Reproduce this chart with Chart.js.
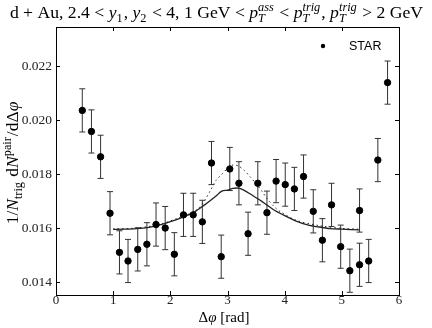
<!DOCTYPE html>
<html>
<head>
<meta charset="utf-8">
<script src="https://cdn.jsdelivr.net/npm/chart.js@4.4.0/dist/chart.umd.min.js"></script>
<style>
  html, body { margin: 0; padding: 0; background: #fff; }
</style>
</head>
<body>
<canvas id="chart" width="432" height="328"></canvas>
<script>
// STAR points
const phi = [0.46, 0.62, 0.78, 0.945, 1.11, 1.26, 1.43, 1.59, 1.75, 1.91, 2.07, 2.23, 2.40, 2.56, 2.72, 2.89, 3.04, 3.20,
  3.36, 3.53, 3.69, 3.85, 4.01, 4.17, 4.33, 4.50, 4.66, 4.82, 4.98, 5.14, 5.31, 5.31, 5.47, 5.63, 5.80]
const yieldVals = [0.02037, 0.01959, 0.01865, 0.01656, 0.01511, 0.01479, 0.01522, 0.01541, 0.01614, 0.01601, 0.01504,
  0.01650, 0.01650, 0.01624, 0.01842, 0.01495, 0.01820, 0.01767, 0.01580, 0.01767, 0.01658, 0.01775, 0.01762, 0.01746,
  0.01792, 0.01663, 0.01556, 0.01687, 0.01532, 0.01443, 0.01465, 0.01666, 0.01479, 0.01853, 0.02140]
const yieldErr = [0.0008, 0.0008, 0.0008, 0.0008, 0.0008, 0.0008, 0.0008, 0.0008, 0.0008, 0.0008, 0.0008, 0.0008,
  0.0008, 0.0008, 0.0008, 0.0008, 0.0008, 0.0008, 0.0008, 0.0008, 0.0008, 0.0008, 0.0008, 0.0008, 0.0008, 0.0008,
  0.0008, 0.0008, 0.0008, 0.0008, 0.0008, 0.0008, 0.0008, 0.0008, 0.0008]

// theory curves
const solidX = [1.0, 1.2, 1.4, 1.6, 1.8, 2.0, 2.2, 2.4, 2.6, 2.8, 2.9, 3.0, 3.1, 3.2, 3.3, 3.4, 3.6, 3.8, 4.0, 4.2, 4.4, 4.6, 4.8, 5.0, 5.3]
const solidY = [0.01596, 0.01597, 0.01599, 0.01603, 0.01612, 0.01625, 0.01640, 0.01658, 0.01687, 0.01720, 0.01738,
  0.01742, 0.01748, 0.01749, 0.01740, 0.01727, 0.01700, 0.01670, 0.01647, 0.01627, 0.01613, 0.01605, 0.01599, 0.01597, 0.01594]
const dottedX = [1.0, 1.4, 1.8, 2.2, 2.4, 2.5, 2.6, 2.7, 2.8, 2.9, 3.0, 3.1, 3.2, 3.3, 3.4, 3.5, 3.6, 3.7, 3.8, 3.9, 4.2, 4.6, 5.0, 5.3]
const dottedY = [0.01598, 0.01601, 0.01614, 0.01643, 0.01660, 0.01675, 0.01703, 0.01740, 0.01778, 0.01800, 0.01822,
  0.01835, 0.01830, 0.01813, 0.01790, 0.01765, 0.01738, 0.01708, 0.01684, 0.01665, 0.01630, 0.01610, 0.01600, 0.01597]

const xTicks = [0, 1, 2, 3, 4, 5, 6]
const yTicks = [0.014, 0.016, 0.018, 0.020, 0.022]

const SERIF = "'Liberation Serif', 'DejaVu Serif', serif"

// width of a run of text pieces (italics, sub/superscripts)
function richWidth(ctx, parts, size) {
  let w = 0
  parts.forEach(p => {
    if (p.sub !== undefined || p.sup !== undefined) {
      ctx.font = `${p.it ? "italic " : ""}${size * 0.7}px ${SERIF}`
      const a = p.sub ? ctx.measureText(p.sub).width : 0
      const b = p.sup ? ctx.measureText(p.sup).width : 0
      w += Math.max(a, b) + 1
    } else {
      ctx.font = `${p.it ? "italic " : ""}${size}px ${SERIF}`
      w += ctx.measureText(p.t).width
    }
  })
  return w
}

function drawRich(ctx, parts, x, y, size) {
  ctx.textBaseline = "alphabetic"
  ctx.textAlign = "left"
  parts.forEach(p => {
    if (p.sub !== undefined || p.sup !== undefined) {
      ctx.font = `${p.it ? "italic " : ""}${size * 0.7}px ${SERIF}`
      let w = 0
      if (p.sub) { ctx.fillText(p.sub, x, y + size * 0.2); w = ctx.measureText(p.sub).width }
      if (p.sup) { ctx.fillText(p.sup, x, y - size * 0.42); w = Math.max(w, ctx.measureText(p.sup).width) }
      x += w + 1
    } else {
      ctx.font = `${p.it ? "italic " : ""}${size}px ${SERIF}`
      ctx.fillText(p.t, x, y)
      x += ctx.measureText(p.t).width
    }
  })
}

const titleParts = [
  { t: "d + Au, 2.4 < " }, { t: "y", it: true }, { sub: "1" }, { t: ", " }, { t: "y", it: true }, { sub: "2" },
  { t: " < 4, 1 GeV < " }, { t: "p", it: true }, { sub: "T", sup: "ass", it: true },
  { t: " < " }, { t: "p", it: true }, { sub: "T", sup: "trig", it: true },
  { t: ", " }, { t: "p", it: true }, { sub: "T", sup: "trig", it: true }, { t: " > 2 GeV" }
]
const yLabelParts = [
  { t: "1/" }, { t: "N", it: true }, { sub: "trig" }, { t: " d" }, { t: "N", it: true }, { sup: "pair" },
  { t: "/d\u0394" }, { t: "\u03C6", it: true }
]
const xLabelParts = [{ t: "\u0394" }, { t: "\u03C6", it: true }, { t: " [rad]" }]

const decorPlugin = {
  id: "decor",
  beforeDatasetsDraw(chart) {
    const ctx = chart.ctx
    const xs = chart.scales.x, ys = chart.scales.y
    ctx.save()
    ctx.strokeStyle = "#333"
    ctx.lineWidth = 1
    phi.forEach((v, i) => {
      const px = xs.getPixelForValue(v)
      const top = ys.getPixelForValue(yieldVals[i] + yieldErr[i])
      const bot = ys.getPixelForValue(yieldVals[i] - yieldErr[i])
      ctx.beginPath()
      ctx.moveTo(px, top); ctx.lineTo(px, bot)
      ctx.moveTo(px - 3, top); ctx.lineTo(px + 3, top)
      ctx.moveTo(px - 3, bot); ctx.lineTo(px + 3, bot)
      ctx.stroke()
    })
    ctx.restore()
  },
  afterDraw(chart) {
    const ctx = chart.ctx
    const a = chart.chartArea
    const xs = chart.scales.x, ys = chart.scales.y
    ctx.save()
    ctx.strokeStyle = "#000"
    ctx.lineWidth = 1
    ctx.strokeRect(Math.round(a.left) + 0.5, Math.round(a.top) + 0.5, Math.round(a.right - a.left), Math.round(a.bottom - a.top))
    ctx.beginPath()
    xTicks.forEach(v => {
      const px = Math.round(xs.getPixelForValue(v)) + 0.5
      ctx.moveTo(px, a.bottom); ctx.lineTo(px, a.bottom - 4)
      ctx.moveTo(px, a.top); ctx.lineTo(px, a.top + 4)
    })
    yTicks.forEach(v => {
      const py = Math.round(ys.getPixelForValue(v)) + 0.5
      ctx.moveTo(a.left, py); ctx.lineTo(a.left + 4, py)
      ctx.moveTo(a.right, py); ctx.lineTo(a.right - 4, py)
    })
    ctx.stroke()

    // legend
    ctx.fillStyle = "#000"
    ctx.beginPath()
    ctx.arc(323, 46, 2.2, 0, Math.PI * 2)
    ctx.fill()
    ctx.font = "12.5px 'Liberation Sans', Arial, sans-serif"
    ctx.textBaseline = "middle"
    ctx.textAlign = "left"
    ctx.fillText("STAR", 349, 46.5)

    // title, fitted to the width it has in the figure
    let ts = 16
    ts = ts * 414 / richWidth(ctx, titleParts, ts)
    const tw = richWidth(ctx, titleParts, ts)
    drawRich(ctx, titleParts, 216.5 - tw / 2, 18, ts)

    // x label
    const xw = richWidth(ctx, xLabelParts, 15)
    drawRich(ctx, xLabelParts, 224 - xw / 2, 322, 15)

    // y label
    const ysz = 17.5
    const yw = richWidth(ctx, yLabelParts, ysz)
    ctx.translate(18, 163)
    ctx.rotate(-Math.PI / 2)
    drawRich(ctx, yLabelParts, -yw / 2, 0, ysz)
    ctx.restore()
  }
}

new Chart(document.getElementById("chart"), {
  type: "scatter",
  data: {
    datasets: [
      {
        label: "STAR",
        data: phi.map((v, i) => ({ x: v, y: yieldVals[i] })),
        backgroundColor: "#000",
        borderColor: "#000",
        pointRadius: 3.2,
        pointHoverRadius: 3.2
      },
      {
        label: "solid",
        type: "line",
        data: solidX.map((v, i) => ({ x: v, y: solidY[i] })),
        borderColor: "#222",
        borderWidth: 1.3,
        pointRadius: 0,
        tension: 0.3,
        fill: false
      },
      {
        label: "dotted",
        type: "line",
        data: dottedX.map((v, i) => ({ x: v, y: dottedY[i] })),
        borderColor: "#222",
        borderWidth: 1,
        borderDash: [1.5, 3],
        pointRadius: 0,
        tension: 0.3,
        fill: false
      }
    ]
  },
  options: {
    responsive: false,
    animation: false,
    layout: { padding: { top: 27, right: 33, left: 0, bottom: 0 } },
    plugins: { legend: { display: false }, tooltip: { enabled: false } },
    scales: {
      x: {
        type: "linear",
        min: 0,
        max: 6,
        grid: { display: false, drawTicks: false },
        border: { display: false },
        afterFit: s => { s.height = 33 },
        afterBuildTicks: s => { s.ticks = xTicks.map(v => ({ value: v })) },
        ticks: { color: "#222", font: { family: SERIF, size: 13 }, padding: -2, maxRotation: 0, callback: v => String(v) }
      },
      y: {
        type: "linear",
        min: 0.01353,
        max: 0.02346,
        grid: { display: false, drawTicks: false },
        border: { display: false },
        afterFit: s => { s.width = 56 },
        afterBuildTicks: s => { s.ticks = yTicks.map(v => ({ value: v })) },
        ticks: { color: "#222", font: { family: SERIF, size: 13.5 }, padding: 4, callback: v => v.toFixed(3) }
      }
    }
  },
  plugins: [decorPlugin]
})
</script>
</body>
</html>
